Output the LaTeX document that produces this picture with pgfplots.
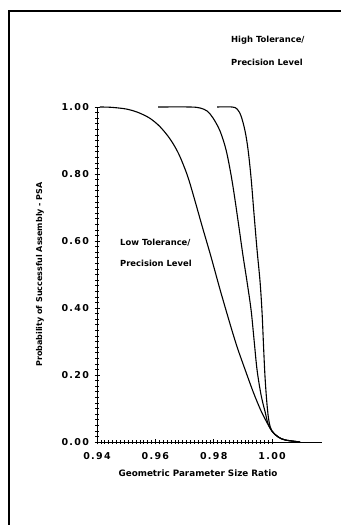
\documentclass[border=0pt]{standalone}
\usepackage{pgfplots}
\pgfplotsset{compat=1.18}
\usepackage{fontspec}
\setmainfont{DejaVu Sans}
\newfontfamily\tickfont[LetterSpace=14]{DejaVu Sans}
\begin{document}
\begin{tikzpicture}[x=1pt,y=1pt]
\useasboundingbox (0,0) rectangle (341,525);
\draw[line width=1.6pt] (9,0) -- (9,514) -- (341,514);
\begin{axis}[
  at={(97pt,83pt)}, anchor=south west,
  scale only axis, width=225pt, height=335pt,
  xmin=0.94, xmax=1.0171, ymin=0, ymax=1,
  axis lines=left, axis line style={-, line width=0.9pt},
  xtick={0.94,0.96,0.98,1.00},
  xticklabels={0.94,0.96,0.98,1.00},
  ytick={0,0.2,0.4,0.6,0.8,1.0},
  yticklabels={0.00,0.20,0.40,0.60,0.80,1.00},
  minor x tick num=14, minor y tick num=11,
  tick align=center,
  major tick length=5pt, minor tick length=3.5pt,
  every tick/.style={black, line width=0.6pt},
  /pgf/number format/assume math mode=true,
  ticklabel style={font=\tickfont\fontsize{9.5}{10}\selectfont\bfseries},
  xticklabel style={yshift=-4pt},
  yticklabel style={xshift=-2pt},
  xlabel={Geometric Parameter Size Ratio},
  ylabel={Probability of Successful Assembly - PSA},
  xlabel style={font=\fontsize{8.8}{10}\selectfont\bfseries,
    at={(axis description cs:0.449,-0.0925)}, anchor=center},
  ylabel style={font=\fontsize{8}{10}\selectfont\bfseries,
    at={(axis description cs:-0.253,0.5)}, anchor=center},
  clip=false,
]
\addplot[black, line width=1.1pt, smooth, tension=0.5] coordinates {
(0.9410,1.000) (0.9450,0.999) (0.9500,0.994) (0.9540,0.984) (0.9580,0.967)
(0.9615,0.942) (0.9650,0.905) (0.9680,0.860) (0.9710,0.795) (0.9735,0.722)
(0.9760,0.645) (0.9790,0.555) (0.9822,0.454) (0.9856,0.352) (0.9880,0.284)
(0.9905,0.222) (0.9935,0.150) (0.9960,0.097) (0.9980,0.062) (1.0000,0.032)
(1.0021,0.015) (1.0045,0.006) (1.0096,0.000)};
\addplot[black, line width=1.1pt, smooth, tension=0.55] coordinates {
(0.96091,1.000) (0.97188,1.000) (0.97531,0.997) (0.97771,0.988) (0.97977,0.967)
(0.98217,0.928) (0.98422,0.872) (0.98594,0.797) (0.98731,0.722) (0.98868,0.639)
(0.99005,0.555) (0.99142,0.478) (0.99280,0.394) (0.99383,0.304) (0.99485,0.215)
(0.99623,0.140) (0.99760,0.090) (0.99863,0.054) (1.00000,0.032) (1.0021,0.015)
(1.0045,0.006) (1.0096,0.000)};
\addplot[black, line width=1.1pt, smooth, tension=0.55] coordinates {
(0.98114,1.000) (0.98628,1.000) (0.98800,0.994) (0.98937,0.973) (0.99074,0.928)
(0.99177,0.872) (0.99280,0.788) (0.99383,0.678) (0.99485,0.573) (0.99588,0.478)
(0.99657,0.385) (0.99708,0.284) (0.99760,0.191) (0.99828,0.110) (0.99897,0.060)
(1.00000,0.032) (1.0021,0.015) (1.0045,0.006) (1.0096,0.000)};
\end{axis}
\begin{scope}[font=\fontsize{8.4}{9}\selectfont\bfseries]
\node[anchor=west, inner sep=0pt] at (231,485) {High Tolerance/};
\node[anchor=west, inner sep=0pt] at (231,463) {Precision Level};
\node[anchor=west, inner sep=0pt] at (120,282) {Low Tolerance/};
\node[anchor=west, inner sep=0pt] at (120,262) {Precision Level};
\end{scope}
\end{tikzpicture}
\end{document}
